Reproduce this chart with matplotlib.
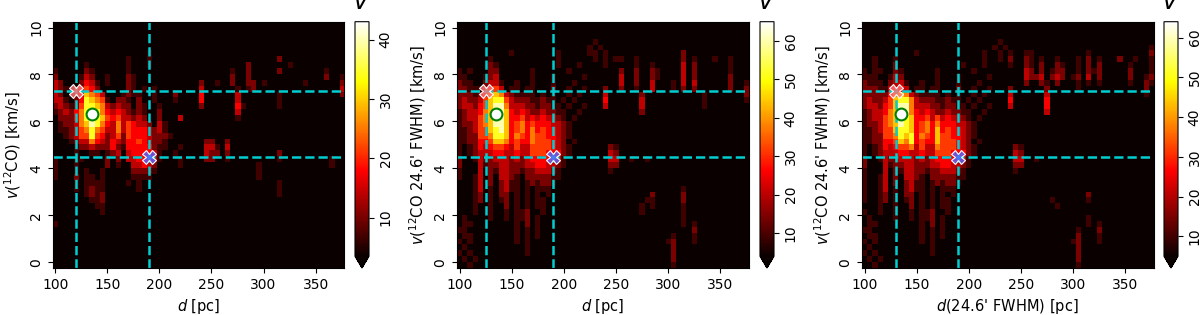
"""Distance-velocity histograms with the two cloud components marked."""

import numpy as np
import matplotlib
matplotlib.use('Agg')
import matplotlib.pyplot as plt

# histogram geometry: 5 pc bins in d, 0.25 km/s bins in v
d_edges = (97.5, 377.5)
v_edges = (-0.25, 10.25)
n_cols = 56

# cell intensity as a digit 0-9 (0 = empty), rows from top (v=10.1) down
panel1_rows = [
    "", "", "", "", "",
    ".........." "........1.",
    ".........." "....1...1." ".........." ".........." "...2......",
    "......1..." "....1...1." ".........." ".......2.." ".....1....",
    "1.....21.." "....1....." ".........." "....1..2.." "...2......" "..1...",
    "2....132.." "1...21...." ".........." "....2..2.." ".........." "..2..1",
    "32...2431." "1...21...." "........2." ".1..2..22." "1.......1." ".....2",
    "321.23542." "....21.1.1" "........3." ".....1.12." ".........." ".....3",
    "32.1237653" "...1211..1" "...2....4." ".....3...." "...1......" ".....2",
    "331.248765" "1.221.2..1" "...1....4." ".....3...." "...1......",
    "2321258876" "32322.21.." "1.......2." ".....41..." "...1......",
    "1232468986" "43432121.." "2........." ".....3....",
    ".222468987" "54533232.." "2...3....." ".....1....",
    ".122367986" "436354332." "31........",
    ".112356865" "3363544432" "31........",
    "..12355854" "2352544432" "221.......",
    "...1233643" "2432445432" "21.......2" "2..2......",
    "....122322" "2421444442" "11..1....3" "31.3......",
    "....1..11." "123.344443" "1..1.....3" "22.2......" "...2......",
    "1...11...." "2.2.334443" "1...1....2" "2..1......" "...1......" "...1..",
    "1...1....." "2.1..33432" "....1....." ".........1" ".........." "...1..",
    "1...1.1..1" ".....22221" ".........." ".........1",
    "1...2.11.1" ".....1111." ".........." ".........1",
    "....1.1111" "....1.1..." ".........." ".........." "...1......",
    "....1.1211" "......1..." ".........." ".........." "...1......",
    "......1212" ".........." ".........." ".........." "...1......",
    ".......112",
    "........11",
    ".........1",
    "",
    "1",
    "", "", "", "", "", "", "",
]

panel2_rows = [
    "", "", "",
    ".........." ".........." "......1...",
    ".........." ".........." ".....1.1..",
    ".........." "1........1" ".....11.1." ".........." "...2......",
    "......1..." ".........1" "......1.1." "11..1....." "...2.1...1" "..1...",
    "......21.." ".........1" "...1....1." "....1..1.." "...3.2...." "..1...",
    "1.1...22.." "....1....." ".1........" ".2..2..21." "...3.2...." "..1...",
    "11...123.." "....1...1." "....1....." ".3..2..21." "...3.2...." "..2...",
    "211..2331." ".1..1...1." "..1......." ".3..2..3.." ".1.3.3...." "..2..1",
    "221113453." "11.11...2." ".1..1...2." ".2..1..3.." ".1.2.2...." "..2..2",
    "2221246763" "21111.1.1." ".1.1....3." ".....2...." ".......1.." ".....2",
    "2322357885" "322211211." "1.1.....4." ".....3...." ".......1.." ".....1",
    "2332457996" "3332212211" ".1..1...3." ".....3...." ".......1..",
    "1233467997" "4343223221" "1..1......" ".....2....",
    "1233567997" "4453434332" "1.1.......",
    "1223567997" "4564544433" "21........",
    "1123557897" "4564645443" "21........",
    "1122556887" "4654655443" "21........",
    "1122445776" "4544655543" "2.1.......",
    "1.12434554" "3533555543" "21.......2" "1.........",
    "1.12333443" "3433555444" "21.......3" "2.........",
    "2..1322333" "2323444443" "1........3" "3..1..1...",
    "2...312233" "2223344332" "1........2" "2.........",
    "1...3.2133" "2212233321" ".........1",
    "1..13.2.33" "21.2222211",
    "...13.2.23" "11.121221.",
    "...13.1.23" "11.1.111.." ".........." ".........." "...1......",
    "...12.1.22" ".1.1.1.1.." ".........." ".......2.." "...2......",
    "...12.1.12" ".1.1.11..." ".........." "......11.." "...2......",
    "...1..1..2" ".1.1.11..." ".........." ".....1.1.." "...1......",
    "...1..1..1" ".112..1..." ".........." ".....1...." "...1......",
    ".1....1..1" ".112.1...." ".........." ".........." "...1......",
    ".11......." ".1.2.1...." ".........." ".........." "...1.1....",
    "11........" ".1.1.1...." ".........." ".........." ".....2....",
    ".11......." ".1.1.1...." ".........." ".........." ".1...1....",
    "1.1......." ".1.1......" ".........." ".........." "12...1....",
    ".1........" "...1......" ".........." ".........." ".2........",
    "1.1......." "...1......" ".........." ".........." ".2........",
    ".1.1......" ".........." ".........." ".........." ".2........",
    "..1......." ".........." ".........." ".........." ".1........",
]

panel3_rows = [
    "", "", "",
    ".........." ".........." "......1...",
    ".........." ".........." ".....1.1.." ".........." ".........." ".....1",
    ".........." "1........." "...1..1.1." ".11......." "...1......" ".....2",
    "..1...1..." ".........." "...1..1.2." ".21.1..1.." ".1.2.1...2" "..1..1",
    "..1...2..." ".........1" "...1....1." ".21.2..21." ".1.2.2...." ".1...1",
    "1.11..21.." "....1....." ".1........" ".32.2.122." ".1.212...." ".2...1",
    "111..132.." "....1...1." "....1....." ".3223.232." "12.3.2...." ".2..12",
    "2111.2331." ".1..1...1." "..1......." ".2..21.2.." ".1.1.1...." ".1..21",
    "222113443." "11.11...2." ".1..1...2." ".....2...." ".1........" "....2.",
    "2222246763" "21111.1.1." ".1.1....3." ".....3...." ".........." "....1.",
    "2322357886" "322211211." "1.1.....4." ".....4....",
    "2332457996" "3332212211" ".1..1...3." ".....4....",
    "1233467996" "4343223221" "1..1......" ".....3....",
    "1233567987" "4453534332" "1.1.......",
    "1223567987" "4564644433" "21........",
    "1123557887" "4564745443" "21........",
    "1122556878" "4654755443" "21........",
    "1122445768" "4544755543" "2.1.......",
    "1.12434556" "3533655543" "21.......2" "1.........",
    "1.12333443" "3433555444" "21.......3" "2.........",
    "2..1322333" "2323444443" "1........3" "3..1......",
    "2...312233" "2223344332" "1........2" "2.........",
    "1...3.2133" "2212233321" ".........1",
    "1..13.2.33" "21.2222211",
    "1..13.2.23" "11.121221.",
    "1..13.1.23" "11.1.111..",
    "1..12.1.22" ".1.1.1.1.." ".........." ".........." "...2......",
    "1..12.1.12" ".1.1.11..." ".........." "......1..." "...1......",
    "...1..1..2" ".1.1.11..." ".........." ".......1..",
    "1..1..1..1" ".112..1...",
    ".1....1..1" ".112.1...." ".........." ".........." "...1......",
    ".11......." ".1.2.1...." ".........." ".........." "...1.1....",
    "11........" ".1.1.1...." ".........." ".........." ".1...2....",
    ".11......." ".1.1.1...." ".........." ".........." ".2...1....",
    "1.1......." ".1.1......" ".........." ".........." "12...1....",
    ".1........" "...1......" ".........." ".........." ".2........",
    "1.1......." "...1......" ".........." ".........." ".2........",
    ".1.1......" ".........." ".........." ".........." ".2........",
    "..1......." ".........." ".........." ".........." ".1........",
]

# fraction of the colour range that each digit stands for
digit_levels = [0.0, 0.08, 0.17, 0.27, 0.36, 0.45, 0.55, 0.66, 0.78, 0.92]

# colour scale of each panel (vmin, vmax) and colorbar ticks
panel_limits = [(3.5, 43.0), (4.0, 65.0), (5.0, 64.0)]
panel_cticks = [[10, 20, 30, 40], [10, 20, 30, 40, 50, 60],
                [10, 20, 30, 40, 50, 60]]

# distances of the near component, and the common far / velocity markers
d_near = [120, 125, 130]
d_far = 190
v_near = 7.3
v_far = 4.5
peak = (135, 6.3)

xlabels = [r'$d$ [pc]', r'$d$ [pc]', r"$d$(24.6' FWHM) [pc]"]
ylabels = [r'$v$($^{12}$CO) [km/s]',
           r"$v$($^{12}$CO 24.6' FWHM) [km/s]",
           r"$v$($^{12}$CO 24.6' FWHM) [km/s]"]


def to_counts(rows, vmin, vmax):
    """Turn digit rows into histogram counts (empty cells -> 0)."""
    digits = np.array([[int(c) if c.isdigit() else 0
                        for c in r.ljust(n_cols, '.')[:n_cols]] for r in rows])
    counts = vmin + (vmax - vmin) * np.array(digit_levels)[digits]
    counts[digits == 0] = 0
    return counts


def plot_panel(ax, cax, rows, lims, cticks, dnear, xlabel, ylabel):
    vmin, vmax = lims
    counts = to_counts(rows, vmin, vmax)
    im = ax.imshow(counts, cmap='hot', vmin=vmin, vmax=vmax, aspect='auto',
                   interpolation='nearest', origin='upper',
                   extent=[d_edges[0], d_edges[1], v_edges[0], v_edges[1]])
    for x in (dnear, d_far):
        ax.axvline(x, color='darkturquoise', ls='--', lw=1.8)
    for y in (v_near, v_far):
        ax.axhline(y, color='darkturquoise', ls='--', lw=1.8)
    ax.plot(dnear, v_near, 'X', ms=10, mfc=(1, 0.45, 0.45, 0.8), mec='w',
            mew=0.8)
    ax.plot(d_far, v_far, 'X', ms=10, mfc=(0.35, 0.4, 1, 0.8), mec='w',
            mew=0.8)
    ax.plot(*peak, 'o', ms=8.5, mfc='w', mec='green', mew=1.5)
    ax.set_xlim(*d_edges)
    ax.set_ylim(*v_edges)
    ax.set_xticks([100, 150, 200, 250, 300, 350])
    ax.set_yticks([0, 2, 4, 6, 8, 10])
    ax.tick_params(labelsize=10)
    plt.setp(ax.get_yticklabels(), rotation=90, va='center')
    ax.set_xlabel(xlabel, fontsize=10.5)
    ax.set_ylabel(ylabel, fontsize=10.5)

    cbar = plt.colorbar(im, cax=cax, extend='min', ticks=cticks)
    cbar.ax.tick_params(labelsize=10)
    plt.setp(cbar.ax.get_yticklabels(), rotation=90, va='center')
    return im


fig = plt.figure(figsize=(12, 3.15), dpi=100)
W, H = 1200.0, 315.0
ax_left = [52.7, 457, 862]
cb_left = [355, 760, 1164]
top, bottom = 21.7, 268.0

all_rows = [panel1_rows, panel2_rows, panel3_rows]
for k in range(3):
    ax = fig.add_axes([ax_left[k] / W, 1 - bottom / H, 291.5 / W,
                       (bottom - top) / H])
    cax = fig.add_axes([cb_left[k] / W, 1 - bottom / H, 14 / W,
                        (bottom - top) / H])
    plot_panel(ax, cax, all_rows[k], panel_limits[k], panel_cticks[k],
               d_near[k], xlabels[k], ylabels[k])
    # colorbar label, clipped by the top edge as in the original
    fig.text((cb_left[k] + 7) / W, 1 - 14 / H, r'$V$', fontsize=17,
             ha='center', va='bottom')

fig.savefig('out.png', dpi=100)
